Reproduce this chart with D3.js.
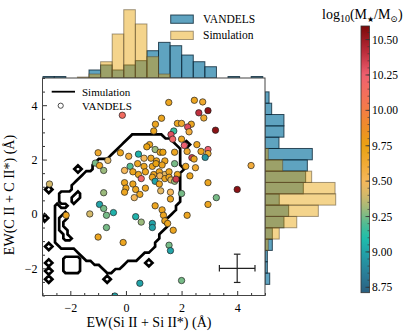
<!DOCTYPE html>
<html lang="en">
<head>
<meta charset="UTF-8">
<title>EW(Si II) vs EW(C II)</title>
<style>
    body { margin: 0; background: #fff; }
    svg { display: block; font-family: "Liberation Serif", "DejaVu Serif", serif; }
</style>
</head>
<body>
<div id="chart"></div>
<script src="https://d3js.org/d3.v7.min.js"></script>
<script>
// VANDELS galaxies
const ewSi = [1.54, 2.46, 2.76, -0.13, 2.62, 2.95, 1.28, 2.80, 1.06, 1.85, 2.00, 2.35, 2.22, 3.22, 1.00, 1.72, 1.62, 2.27, 1.68, 2.00,
    0.85, 0.75, 2.10, 2.55, 1.05, 2.95, 1.23, 1.33, 1.75, 2.20, 2.70, 2.95, 2.37, 2.85, 2.45, -1.00, -0.20, 0.45, 0.10, -1.10,
    -0.65, 0.65, 0.90, 1.10, 1.40, 1.75, 0.15, 0.42, 0.65, 0.95, 1.08, 1.30, 2.15, 2.50, 4.50, -0.95, -0.80, -0.05, 0.25, 0.45,
    0.70, 1.00, 1.20, 1.40, 1.55, 1.85, 2.30, 0.55, 0.95, 1.22, 1.40, 1.55, 1.62, 1.75, 1.80, 1.05, 1.20, 0.25, -0.05, 2.95,
    0.00, 0.35, 0.70, 1.25, 1.60, 4.00, -0.05, 0.50, 2.00, -0.80, 0.30, 1.60, 3.25, 2.95, -0.95, 1.05, -0.80, 1.30, -2.15, -1.30,
    -0.45, -0.70, 0.35, 1.35, 2.20, 1.40, 0.95, 1.50, -0.70, 0.55, 0.95, 1.70, -1.00, -0.10, 1.55, 1.60, -2.75, 0.50, 2.00, -0.40];
const ewC = [4.10, 4.18, 4.12, 3.63, 3.72, 3.80, 3.52, 3.53, 3.30, 3.33, 3.33, 3.30, 3.20, 3.08, 3.05, 3.05, 2.92, 3.02, 2.75, 2.75,
    2.55, 2.47, 2.52, 2.55, 2.37, 2.37, 2.27, 2.27, 2.27, 2.30, 2.30, 2.22, 2.07, 2.08, 2.02, 2.25, 2.25, 2.20, 2.12, 1.87,
    1.97, 2.05, 2.05, 1.95, 1.95, 1.85, 1.75, 1.85, 1.75, 1.75, 1.85, 1.80, 1.75, 1.70, 1.78, 1.78, 1.60, 1.60, 1.55, 1.45,
    1.55, 1.45, 1.55, 1.45, 1.55, 1.45, 1.40, 1.30, 1.35, 1.40, 1.30, 1.35, 1.25, 1.20, 1.28, 1.20, 1.10, 1.10, 1.15, 1.15,
    0.95, 0.90, 0.95, 0.85, 0.80, 0.90, 0.80, 0.72, 0.75, 0.78, 0.60, 0.55, 0.60, 0.35, 0.35, 0.30, 0.20, 0.15, -0.05, 0.00,
    0.05, -0.05, -0.10, -0.05, -0.05, -0.25, -0.35, -0.35, -0.50, -0.30, -0.50, -0.60, -0.85, -1.05, -1.15, -1.35, 1.10, -2.55, -2.45, -3.02];
const logMass = [9.7, 9.7, 9.65, 10.15, 10.4, 10.55, 9.7, 9.65, 9.7, 9.7, 9.65, 9.7, 10.3, 10.55, 9.7, 9.15, 10.3, 9.6, 10.2, 9.7,
    9.7, 9.75, 10.25, 9.7, 9.3, 10.25, 9.7, 9.75, 9.7, 9.65, 9.7, 9.65, 10.35, 8.95, 9.7, 9.65, 9.7, 9.05, 9.6, 9.25,
    9.45, 9.5, 9.7, 9.7, 9.7, 9.25, 9.2, 9.7, 9.7, 9.7, 9.75, 9.7, 9.7, 9.65, 9.6, 9.7, 9.3, 9.5, 9.7, 9.7,
    9.7, 9.7, 9.7, 9.45, 9.7, 9.7, 9.7, 10.2, 9.7, 9.5, 9.7, 9.7, 9.45, 9.3, 10.35, 9.0, 9.7, 9.7, 9.7, 9.7,
    9.7, 9.7, 9.7, 9.45, 9.5, 10.55, 9.7, 9.7, 9.25, 9.3, 9.5, 9.7, 9.25, 9.7, 9.0, 9.7, 9.25, 9.7, 9.7, 9.4,
    9.05, 9.25, 9.05, 9.7, 9.7, 9.7, 9.0, 9.7, 9.25, 9.3, 9.0, 9.7, 9.7, 9.7, 9.25, 9.0, 9.4, 9.0, 9.25, 9.0];

// marginal histograms (density), 20 bins each
const binWidth = 0.4165;
const siBinStart = -3.41;
const siVandels = [0, 0.017, 0.017, 0, 0, 0.091, 0.148, 0.091, 0.148, 0.197, 0.310, 0.405, 0.367, 0.261, 0.185, 0.128, 0, 0.017, 0, 0.017];
const siSim = [0, 0, 0, 0, 0.011, 0.045, 0.185, 0.500, 0.776, 0.614, 0.242, 0.045, 0, 0, 0, 0, 0, 0, 0, 0];
const cBinStart = -3.84;
const cVandels = [0, 0, 0, 0.036, 0.018, 0.018, 0.056, 0.056, 0.145, 0.181, 0.109, 0.293, 0.311, 0.324, 0.362, 0.107, 0.145, 0.145, 0.051, 0.031];
const cSim = [0, 0, 0, 0, 0, 0, 0.025, 0.109, 0.243, 0.408, 0.541, 0.536, 0.357, 0.135, 0.025, 0, 0, 0, 0, 0];

// simulation density grid, rows from y = 3.0 down to y = -2.85 (step 0.15), columns from x = -2.925
// "a-b" cells above the level, "@c" isolated dense cell, "oc" empty cell
const simGridX0 = -2.925, simGridY0 = -2.85, simGridStep = 0.15, simGridCols = 38;
const simRows = [
    "",
    "21-28",
    "20-30",
    "19-31 @34",
    "18-32",
    "17-32",
    "16-32",
    "13-32",
    "12-32",
    "@8 12-33",
    "10-32",
    "9-32",
    "8-32",
    "7-32",
    "@1 7-32",
    "4-32 o8",
    "4-32 o7 o8",
    "4-32 o7",
    "3-31 o4 o5",
    "3-31",
    "3-30 o5",
    "@0 3-29 o4 o5",
    "3-28 o4",
    "3-29 o4",
    "3-28 o4 o5",
    "3-27 o5",
    "3-27 o5 o6",
    "3-26",
    "@1 4-26",
    "8-25",
    "9-23",
    "5-8 10-22",
    "@1 5-8 12-19 @25",
    "5-8 14-18",
    "@1 5-8 15-16",
    "",
    "@1 @15",
    "",
    "",
    ""
];

// typical uncertainty
const errX = 4, errY = -2, errDX = 0.64, errDY = 0.52;

const massStops = [8.71, 8.85, 9.0, 9.1, 9.2, 9.3, 9.4, 9.5, 9.6, 9.75, 9.9, 10.05, 10.25, 10.4, 10.6];
const massColors = ["#2a5f80", "#2a7f99", "#22a3a8", "#1ebfab", "#52bb92", "#9bba7c", "#d4b96a", "#f6b85a",
    "#f2ac3c", "#e9a212", "#f08a2c", "#f57650", "#ef6070", "#c0303e", "#7a0808"];
const massTicks = [8.75, 9.0, 9.25, 9.5, 9.75, 10.0, 10.25, 10.5];
const axisTicks = [-2, 0, 2, 4];

const W = 415, H = 335;
const svg = d3.select("#chart").append("svg").attr("width", W).attr("height", H);

const x = d3.scaleLinear().domain([-3, 5]).range([42.5, 265]);
const y = d3.scaleLinear().domain([-3, 5]).range([295.5, 78]);
const topY = d3.scaleLinear().domain([0, 0.82]).range([78, 78 - 0.82 * 88]);
const rightX = d3.scaleLinear().domain([0, 0.57]).range([265, 265 + 0.57 * 130.7]);
const color = d3.scaleLinear().domain(massStops).range(massColors).interpolate(d3.interpolateRgb).clamp(true);
const cbar = d3.scaleLinear().domain([8.712, 10.596]).range([292.7, 26]);

const blueFill = "#1377a2", blueEdge = "#0b2536";
const simFill = "#e69f00", simEdge = "#5a4a30";

const defs = svg.append("defs");
defs.append("clipPath").attr("id", "mainClip").append("rect")
    .attr("x", x(-3)).attr("y", y(5)).attr("width", x(5) - x(-3)).attr("height", y(-3) - y(5));
defs.append("clipPath").attr("id", "topClip").append("rect")
    .attr("x", x(-3)).attr("y", 0).attr("width", x(5) - x(-3)).attr("height", 78);
defs.append("clipPath").attr("id", "rightClip").append("rect")
    .attr("x", 265).attr("y", y(5)).attr("width", 100).attr("height", y(-3) - y(5));

// top histogram
const gTop = svg.append("g").attr("clip-path", "url(#topClip)");
function topBars(vals, fill, op, edge, eop) {
    gTop.append("g").selectAll("rect")
        .data(vals.map((v, i) => ({ x0: siBinStart + i * binWidth, v: v })).filter(d => d.v > 0))
        .enter().append("rect")
        .attr("x", d => x(d.x0))
        .attr("width", d => x(d.x0 + binWidth) - x(d.x0))
        .attr("y", d => topY(d.v))
        .attr("height", d => topY(0) - topY(d.v))
        .attr("fill", fill).attr("fill-opacity", op)
        .attr("stroke", edge).attr("stroke-opacity", eop).attr("stroke-width", 1);
}
topBars(siVandels, blueFill, 0.68, blueEdge, 0.8);
topBars(siSim, simFill, 0.45, simEdge, 0.55);

// right histogram
const gRight = svg.append("g").attr("clip-path", "url(#rightClip)");
function rightBars(vals, fill, op, edge, eop) {
    gRight.append("g").selectAll("rect")
        .data(vals.map((v, i) => ({ y0: cBinStart + i * binWidth, v: v })).filter(d => d.v > 0))
        .enter().append("rect")
        .attr("x", rightX(0))
        .attr("width", d => rightX(d.v) - rightX(0))
        .attr("y", d => y(d.y0 + binWidth))
        .attr("height", d => y(d.y0) - y(d.y0 + binWidth))
        .attr("fill", fill).attr("fill-opacity", op)
        .attr("stroke", edge).attr("stroke-opacity", eop).attr("stroke-width", 1);
}
rightBars(cVandels, blueFill, 0.68, blueEdge, 0.8);
rightBars(cSim, simFill, 0.45, simEdge, 0.55);

// histogram legend
const legTop = svg.append("g");
legTop.append("rect").attr("x", 170.7).attr("y", 15).attr("width", 22.6).attr("height", 8.3)
    .attr("fill", blueFill).attr("fill-opacity", 0.68).attr("stroke", blueEdge).attr("stroke-opacity", 0.8);
legTop.append("rect").attr("x", 170.7).attr("y", 31.2).attr("width", 22.6).attr("height", 8.3)
    .attr("fill", simFill).attr("fill-opacity", 0.45).attr("stroke", simEdge).attr("stroke-opacity", 0.55);
legTop.append("text").attr("x", 203).attr("y", 23.2).attr("font-size", "11.5px").text("VANDELS");
legTop.append("text").attr("x", 203).attr("y", 39.4).attr("font-size", "11.5px").text("Simulation");

// main panel
const g = svg.append("g");
g.append("rect").attr("x", x(-3)).attr("y", y(5)).attr("width", x(5) - x(-3)).attr("height", y(-3) - y(5))
    .attr("fill", "#fff");

// simulation contour from the density grid
const nx = simGridCols, ny = simRows.length;
const gridValues = new Array(nx * ny).fill(0);
simRows.forEach((spec, k) => {
    const r = ny - 1 - k;
    spec.split(" ").filter(s => s).forEach(tok => {
        if (tok[0] === "@") gridValues[r * nx + +tok.slice(1)] = 4;
        else if (tok[0] === "o") gridValues[r * nx + +tok.slice(1)] = 0;
        else {
            const ab = tok.split("-").map(Number);
            for (let c = ab[0]; c <= ab[1]; c++) gridValues[r * nx + c] = 1;
        }
    });
});
const simContours = d3.contours().size([nx, ny]).thresholds([0.5])(gridValues);
const gridProj = d3.geoTransform({
    point: function (gx, gy) {
        this.stream.point(x(simGridX0 + (gx - 0.5) * simGridStep), y(simGridY0 + (gy - 0.5) * simGridStep));
    }
});
g.append("g").attr("clip-path", "url(#mainClip)")
    .selectAll("path").data(simContours).enter().append("path")
    .attr("d", d3.geoPath(gridProj))
    .attr("fill", "none").attr("stroke", "#000").attr("stroke-width", 2.7)
    .attr("stroke-linejoin", "miter");

// VANDELS points
const pts = ewSi.map((v, i) => ({ x: v, y: ewC[i], m: logMass[i] }));
g.append("g").attr("clip-path", "url(#mainClip)")
    .selectAll("circle").data(pts).enter().append("circle")
    .attr("cx", d => x(d.x)).attr("cy", d => y(d.y)).attr("r", 3.2)
    .attr("fill", d => color(d.m)).attr("stroke", "#222").attr("stroke-width", 0.7);

// error bar
const eb = g.append("g").attr("stroke", "#222").attr("stroke-width", 1.2);
eb.append("line").attr("x1", x(errX - errDX)).attr("x2", x(errX + errDX)).attr("y1", y(errY)).attr("y2", y(errY));
eb.append("line").attr("x1", x(errX)).attr("x2", x(errX)).attr("y1", y(errY - errDY)).attr("y2", y(errY + errDY));
[errX - errDX, errX + errDX].forEach(v => eb.append("line")
    .attr("x1", x(v)).attr("x2", x(v)).attr("y1", y(errY) - 3.3).attr("y2", y(errY) + 3.3));
[errY - errDY, errY + errDY].forEach(v => eb.append("line")
    .attr("x1", x(errX) - 3.3).attr("x2", x(errX) + 3.3).attr("y1", y(v)).attr("y2", y(v)));

// main legend
const leg = g.append("g");
leg.append("line").attr("x1", 51.7).attr("x2", 75).attr("y1", 91.7).attr("y2", 91.7)
    .attr("stroke", "#000").attr("stroke-width", 1.8);
leg.append("circle").attr("cx", 60.7).attr("cy", 105.7).attr("r", 2.6)
    .attr("fill", "none").attr("stroke", "#222").attr("stroke-width", 0.8);
leg.append("text").attr("x", 82).attr("y", 95.5).attr("font-size", "11px").text("Simulation");
leg.append("text").attr("x", 82).attr("y", 109.5).attr("font-size", "11px").text("VANDELS");

// axes
const fmt = d3.format("");
const minor = d3.range(-3, 5.01, 0.5).filter(v => axisTicks.indexOf(v) < 0);
g.append("g").attr("transform", "translate(0," + y(-3) + ")")
    .call(d3.axisBottom(x).tickValues(axisTicks).tickSize(-4.5).tickPadding(8).tickFormat(fmt));
g.append("g").attr("transform", "translate(0," + y(-3) + ")")
    .call(d3.axisBottom(x).tickValues(minor).tickSize(-2.5).tickFormat(""));
g.append("g").attr("transform", "translate(" + x(-3) + ",0)")
    .call(d3.axisLeft(y).tickValues(axisTicks).tickSize(-4.5).tickPadding(5).tickFormat(fmt));
g.append("g").attr("transform", "translate(" + x(-3) + ",0)")
    .call(d3.axisLeft(y).tickValues(minor).tickSize(-2.5).tickFormat(""));
g.selectAll(".domain").remove();
g.selectAll(".tick line").attr("stroke", "#333");
g.selectAll(".tick text").attr("font-family", "Liberation Serif, serif").attr("font-size", "12px").attr("fill", "#000");

g.append("rect").attr("x", x(-3)).attr("y", y(5)).attr("width", x(5) - x(-3)).attr("height", y(-3) - y(5))
    .attr("fill", "none").attr("stroke", "#444").attr("stroke-width", 1);

svg.append("text").attr("x", 149).attr("y", 327).attr("text-anchor", "middle").attr("font-size", "14px")
    .text("EW(Si II + Si II*) (Å)");
svg.append("text").attr("transform", "translate(14,195) rotate(-90)").attr("text-anchor", "middle")
    .attr("font-size", "14px").text("EW(C II + C II*) (Å)");

// colour bar
const grad = defs.append("linearGradient").attr("id", "massGrad")
    .attr("x1", 0).attr("y1", 1).attr("x2", 0).attr("y2", 0);
d3.range(0, 1.0001, 0.02).forEach(t => {
    const m = cbar.domain()[0] + t * (cbar.domain()[1] - cbar.domain()[0]);
    grad.append("stop").attr("offset", t).attr("stop-color", color(m));
});
const cb = svg.append("g");
cb.append("rect").attr("x", 361).attr("y", cbar(10.596)).attr("width", 8.5).attr("height", cbar(8.712) - cbar(10.596))
    .attr("fill", "url(#massGrad)").attr("stroke", "#333").attr("stroke-width", 0.8);
cb.selectAll(".minor").data(d3.range(8.75, 10.58, 0.05)).enter().append("line")
    .attr("x1", 369.5).attr("x2", 367.5).attr("y1", d => cbar(d)).attr("y2", d => cbar(d))
    .attr("stroke", "#333").attr("stroke-width", 0.6);
cb.selectAll(".major").data(massTicks).enter().append("line")
    .attr("x1", 369.5).attr("x2", 365.5).attr("y1", d => cbar(d)).attr("y2", d => cbar(d))
    .attr("stroke", "#333").attr("stroke-width", 0.8);
cb.selectAll("text").data(massTicks).enter().append("text")
    .attr("x", 372).attr("y", d => cbar(d) + 4).attr("font-size", "11.5px")
    .text(d => d3.format(".2f")(d));

const cbl = svg.append("text").attr("x", 322).attr("y", 19).attr("font-size", "14px");
cbl.append("tspan").text("log");
cbl.append("tspan").attr("font-size", "10px").attr("dy", 3).text("10");
cbl.append("tspan").attr("dy", -3).text("(M");
cbl.append("tspan").attr("font-size", "8px").attr("dy", 3).text("★");
cbl.append("tspan").attr("dy", -3).text("/M");
cbl.append("tspan").attr("font-size", "9px").attr("dy", 3).text("⊙");
cbl.append("tspan").attr("dy", -3).text(")");
</script>
</body>
</html>
